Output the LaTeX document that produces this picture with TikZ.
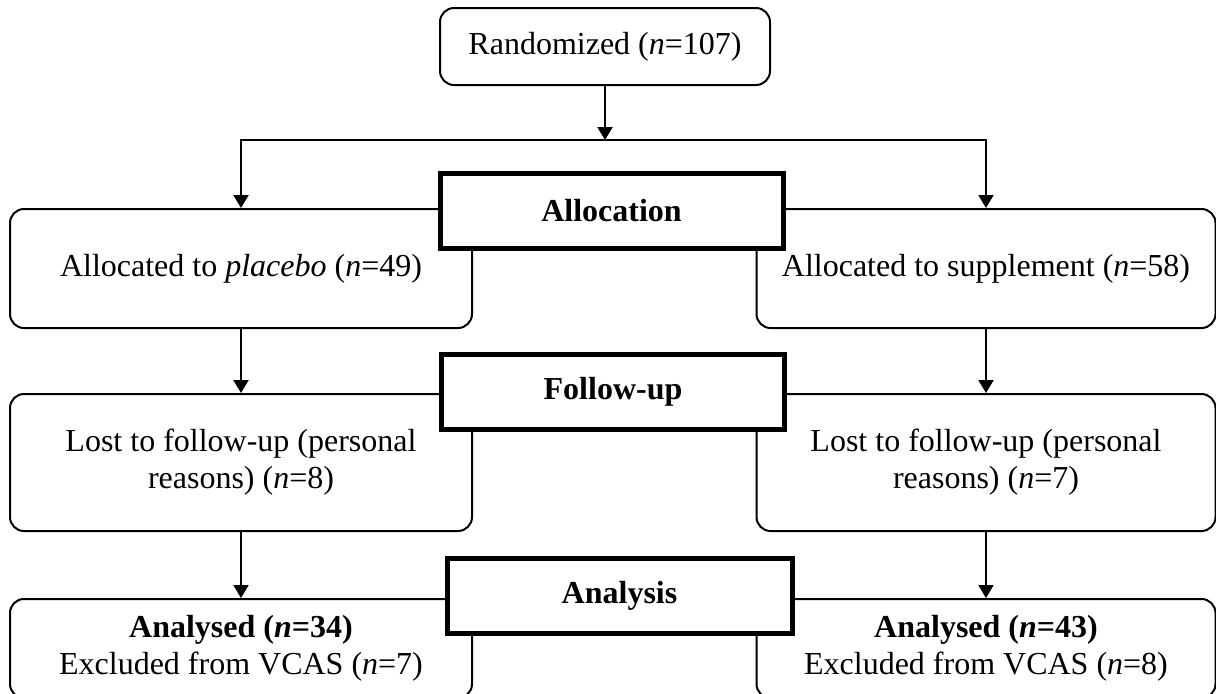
\documentclass[tikz,border=0pt]{standalone}
\usepackage{fontspec}
\setmainfont{Liberation Serif}
\usepackage{tikz}
\usetikzlibrary{arrows.meta,positioning}

\begin{document}
\begin{tikzpicture}[
  x=0.5pt,y=-0.5pt,
  box/.style={draw,rounded corners=7pt,line width=1pt,align=center,
    font=\fontsize{16}{18.5}\selectfont,inner sep=2pt},
  sidebox/.style={box,minimum width=231pt},
  stagebox/.style={draw,fill=white,line width=2.5pt,align=center,
    font=\fontsize{16}{18.5}\selectfont\bfseries,minimum width=171.5pt,minimum height=37.5pt},
  arrow/.style={-{Triangle[length=6.5pt,width=7.5pt]},line width=1pt}
]
\useasboundingbox (0,0) rectangle (1216,693);
\clip (0,0) rectangle (1216,693);

\node[box,minimum width=165pt,minimum height=38.5pt] (rand) at (605,46.5) {Randomized (\textit{n}=107)};
\coordinate (split) at (605,140);

% allocation
\node[sidebox,minimum height=59.5pt] (placebo) at (241,268.5) {Allocated to \textit{placebo} (\textit{n}=49)};
\node[sidebox,minimum height=59.5pt,minimum width=229.5pt] (suppl) at (986,268.5) {Allocated to supplement (\textit{n}=58)};

% follow-up
\node[sidebox,minimum height=68.5pt] (lostP) at (241,462.5) {Lost to follow-up (personal\\reasons) (\textit{n}=8)};
\node[sidebox,minimum height=68.5pt,minimum width=229.5pt] (lostS) at (986,462.5) {Lost to follow-up (personal\\reasons) (\textit{n}=7)};

% analysis
\node[sidebox,minimum height=49.5pt] (anaP) at (241,648.5) {\textbf{Analysed (\textit{n}=34)}\\Excluded from VCAS (\textit{n}=7)};
\node[sidebox,minimum height=49.5pt,minimum width=229.5pt] (anaS) at (986,648.5) {\textbf{Analysed (\textit{n}=43)}\\Excluded from VCAS (\textit{n}=8)};

\node[stagebox] (alloc) at (611.5,210.5) {Allocation};
\node[stagebox] (follow) at (613,392) {Follow-up};
\node[stagebox,minimum width=172.5pt] (analysis) at (619.5,595.5) {Analysis};

\draw[arrow] (rand) -- (split);
\draw[arrow] (split) -| (placebo);
\draw[arrow] (split) -| (suppl);
\draw[arrow] (placebo) -- (lostP);
\draw[arrow] (suppl) -- (lostS);
\draw[arrow] (lostP) -- (anaP);
\draw[arrow] (lostS) -- (anaS);
\end{tikzpicture}
\end{document}
